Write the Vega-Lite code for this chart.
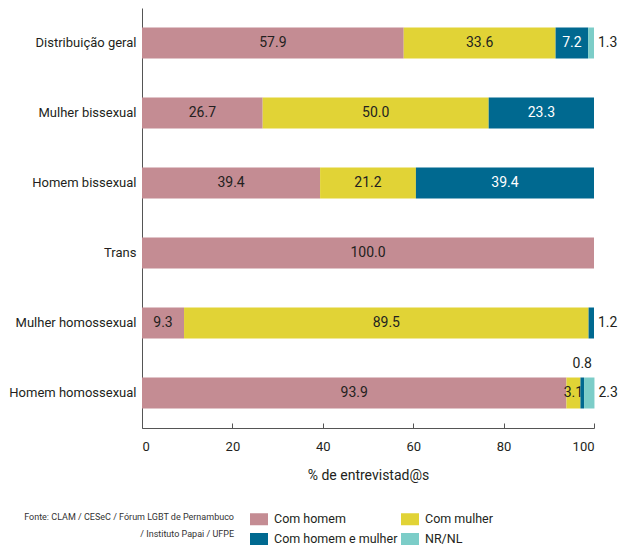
{
  "$schema": "https://vega.github.io/schema/vega-lite/v6.json",
  "width": 452,
  "height": 420,
  "autosize": "none",
  "padding": {"left": 142, "top": 8, "right": 27, "bottom": 125},
  "background": "white",
  "config": {
    "font": "Roboto",
    "view": {"stroke": null},
    "axis": {"grid": false}
  },
  "title": {
    "text": ["Fonte: CLAM / CESeC / Fórum LGBT de Pernambuco", "/ Instituto Papai / UFPE"],
    "orient": "bottom",
    "anchor": "start",
    "frame": "group",
    "align": "right",
    "dx": 92,
    "offset": -33,
    "fontSize": 9,
    "fontWeight": "normal",
    "color": "#333333",
    "lineHeight": 17
  },
  "data": {
    "values": [
      {"grupo": "Distribuição geral", "tipo": "Com homem", "valor": 57.9},
      {"grupo": "Distribuição geral", "tipo": "Com mulher", "valor": 33.6},
      {"grupo": "Distribuição geral", "tipo": "Com homem e mulher", "valor": 7.2},
      {"grupo": "Distribuição geral", "tipo": "NR/NL", "valor": 1.3},
      {"grupo": "Mulher bissexual", "tipo": "Com homem", "valor": 26.7},
      {"grupo": "Mulher bissexual", "tipo": "Com mulher", "valor": 50.0},
      {"grupo": "Mulher bissexual", "tipo": "Com homem e mulher", "valor": 23.3},
      {"grupo": "Homem bissexual", "tipo": "Com homem", "valor": 39.4},
      {"grupo": "Homem bissexual", "tipo": "Com mulher", "valor": 21.2},
      {"grupo": "Homem bissexual", "tipo": "Com homem e mulher", "valor": 39.4},
      {"grupo": "Trans", "tipo": "Com homem", "valor": 100.0},
      {"grupo": "Mulher homossexual", "tipo": "Com homem", "valor": 9.3},
      {"grupo": "Mulher homossexual", "tipo": "Com mulher", "valor": 89.5},
      {"grupo": "Mulher homossexual", "tipo": "Com homem e mulher", "valor": 1.2},
      {"grupo": "Homem homossexual", "tipo": "Com homem", "valor": 93.9},
      {"grupo": "Homem homossexual", "tipo": "Com mulher", "valor": 3.1},
      {"grupo": "Homem homossexual", "tipo": "Com homem e mulher", "valor": 0.8},
      {"grupo": "Homem homossexual", "tipo": "NR/NL", "valor": 2.3}
    ]
  },
  "transform": [
    {"calculate": "indexof(['Com homem','Com mulher','Com homem e mulher','NR/NL'], datum.tipo)", "as": "ordem"},
    {"stack": "valor", "groupby": ["grupo"], "sort": [{"field": "ordem", "order": "ascending"}], "as": ["ini", "fim"]},
    {"calculate": "(datum.ini + datum.fim) / 2", "as": "meio"},
    {"calculate": "datum.valor < 1 ? 'acima' : (datum.valor < 3 ? 'direita' : 'dentro')", "as": "pos"},
    {"calculate": "format(datum.valor, '.1f')", "as": "rotulo"}
  ],
  "encoding": {
    "y": {
      "field": "grupo",
      "type": "nominal",
      "sort": ["Distribuição geral", "Mulher bissexual", "Homem bissexual", "Trans", "Mulher homossexual", "Homem homossexual"],
      "scale": {"paddingInner": 0, "paddingOuter": 0},
      "axis": {
        "title": null,
        "ticks": false,
        "domainColor": "#555555",
        "labelFontSize": 13,
        "labelPadding": 6,
        "labelColor": "#231f20",
        "labelLimit": 0
      }
    }
  },
  "layer": [
    {
      "mark": {"type": "bar", "size": 31},
      "encoding": {
        "x": {
          "field": "ini",
          "type": "quantitative",
          "scale": {"domain": [0, 100], "nice": false},
          "axis": {
            "values": [0, 20, 40, 60, 80, 100],
            "title": "% de entrevistad@s",
            "titleFontSize": 14,
            "titleFontWeight": "normal",
            "titleColor": "#231f20",
            "titlePadding": 15,
            "labelFontSize": 13,
            "labelColor": "#231f20",
            "labelPadding": 17,
            "tickSize": -5,
            "tickColor": "#555555",
            "domainColor": "#555555"
          }
        },
        "x2": {"field": "fim"},
        "color": {
          "field": "tipo",
          "type": "nominal",
          "scale": {
            "domain": ["Com homem", "Com homem e mulher", "Com mulher", "NR/NL"],
            "range": ["#c48c93", "#006990", "#e1d336", "#7ccdc8"]
          },
          "legend": {
            "orient": "none",
            "legendX": 108,
            "legendY": 502,
            "columns": 2,
            "title": null,
            "symbolType": "M-1,-0.667H1V0.667H-1Z",
            "symbolSize": 324,
            "symbolStrokeWidth": 0,
            "symbolOpacity": 1,
            "labelFontSize": 12.5,
            "labelColor": "#231f20",
            "rowPadding": 4,
            "columnPadding": 3,
            "labelOffset": 6
          }
        }
      }
    },
    {
      "transform": [{"filter": "datum.pos == 'dentro'"}],
      "mark": {"type": "text", "fontSize": 14},
      "encoding": {
        "x": {"field": "meio", "type": "quantitative"},
        "text": {"field": "rotulo"},
        "color": {
          "condition": {"test": "datum.tipo == 'Com homem e mulher'", "value": "white"},
          "value": "#231f20"
        }
      }
    },
    {
      "transform": [{"filter": "datum.pos == 'direita'"}],
      "mark": {"type": "text", "fontSize": 14, "align": "left", "dx": 4, "color": "#231f20"},
      "encoding": {
        "x": {"field": "fim", "type": "quantitative"},
        "text": {"field": "rotulo"}
      }
    },
    {
      "transform": [{"filter": "datum.pos == 'acima'"}],
      "mark": {"type": "text", "fontSize": 14, "dy": -29, "color": "#231f20"},
      "encoding": {
        "x": {"field": "meio", "type": "quantitative"},
        "text": {"field": "rotulo"}
      }
    }
  ]
}
